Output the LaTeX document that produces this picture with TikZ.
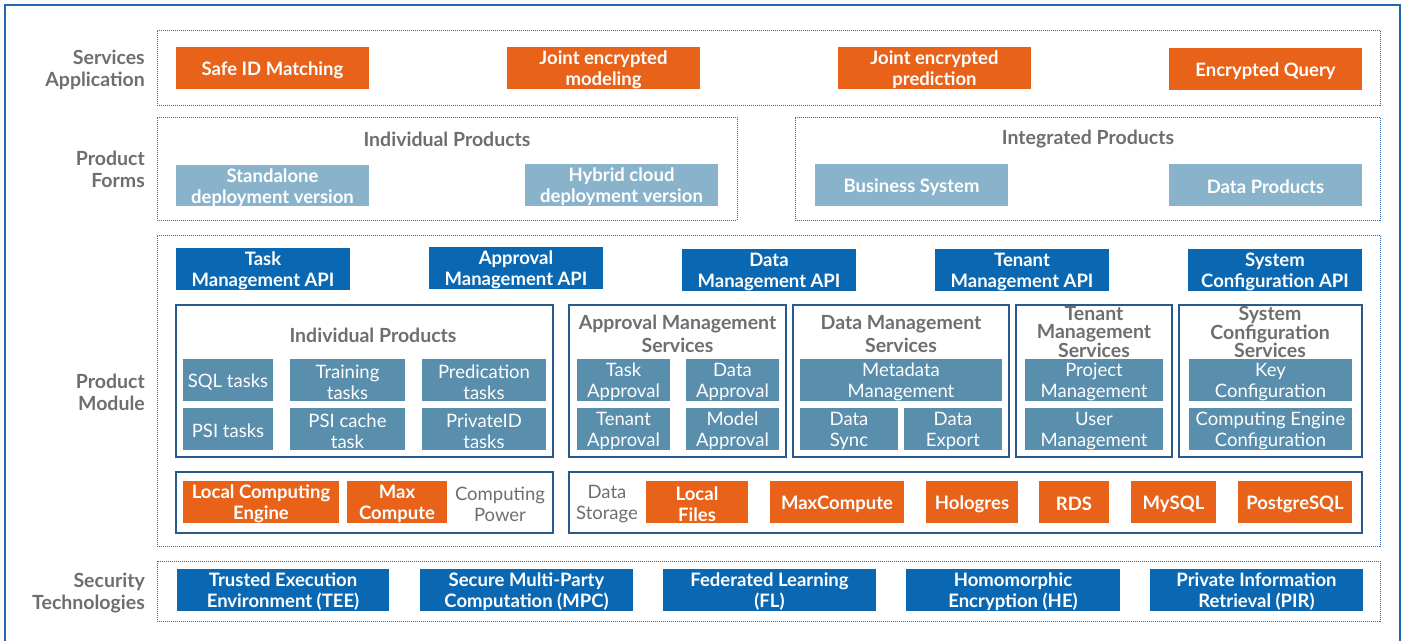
\documentclass[tikz,border=0pt]{standalone}
\usepackage{fontspec}
\setmainfont{Lato}
\usetikzlibrary{positioning}
\definecolor{cOrange}{HTML}{E8621A}
\definecolor{cLight}{HTML}{89B3CB}
\definecolor{cTeal}{HTML}{5A8EAD}
\definecolor{cBlue}{HTML}{0A68B3}
\definecolor{cGray}{HTML}{6E6E70}
\definecolor{cDot}{HTML}{2E65A0}
\definecolor{cFrame}{HTML}{1F6AB3}
\definecolor{cNavy}{HTML}{2A5A8C}
\newcommand{\rbox}[7]{\node[#1, minimum width={#5-#3}, minimum height={#6-#4}] (#2) at ({(#3+#5)/2},{(#4+#6)/2}) {};
  \node[#1, fill=none, draw=none, minimum width=0pt, minimum height=0pt] (#2-t) at ([yshift=-2pt]#2.center) {#7};}
\tikzset{
  base/.style={rectangle, inner sep=0pt, outer sep=0pt, align=center, font=\fontsize{18.5}{21}\selectfont},
  obox/.style={base, fill=cOrange, text=white, font=\bfseries\fontsize{18.5}{21}\selectfont},
  lbox/.style={base, fill=cLight, text=white, font=\bfseries\fontsize{18.5}{21}\selectfont},
  apibox/.style={base, fill=cBlue, text=white, font=\bfseries\fontsize{18.5}{21}\selectfont},
  tbox/.style={base, fill=cTeal, text=white, font=\fontsize{18.5}{21}\selectfont},
  sbox/.style={base, fill=cBlue, text=white, font=\bfseries\fontsize{18.5}{21}\selectfont},
  dotframe/.style={base, draw=cDot, line width=1pt, densely dotted},
  solidframe/.style={base, draw=cNavy, line width=1.5pt},
  lay/.style={anchor=east, align=right, text=cGray, font=\bfseries\fontsize{19.5}{22}\selectfont, inner sep=0pt},
  ttl/.style={align=center, text=cGray, font=\bfseries\fontsize{19.5}{23}\selectfont, inner sep=0pt},
  ttl3/.style={align=center, text=cGray, font=\bfseries\fontsize{19.5}{18.5}\selectfont, inner sep=0pt},
  plain/.style={align=center, text=cGray, font=\fontsize{18.5}{21}\selectfont, inner sep=0pt},
}
\begin{document}
\begin{tikzpicture}[x=1pt,y=-1pt]
\useasboundingbox (0,0) rectangle (1405,640);
\draw[cFrame, line width=1.8pt] (5,660) -- (5,5) -- (1400,5) -- (1400,660);

% layer labels
\node[lay] (lSA) at (145,70) {Services\\Application};
\node[lay] (lPF) at (145,169) {Product\\Forms};
\node[lay] (lPM) at (145,392) {Product\\Module};
\node[lay] (lST) at (145,593) {Security\\Technologies};

% Services Application
\rbox{dotframe}{fSA}{157}{30}{1380}{105}{}
\rbox{obox}{sid}{176}{47}{369}{89}{Safe ID Matching}
\rbox{obox}{jem}{507}{47}{700}{89}{Joint encrypted\\modeling}
\rbox{obox}{jep}{838}{47}{1031}{89}{Joint encrypted\\prediction}
\rbox{obox}{eq}{1169}{48}{1362}{90}{Encrypted Query}

% Product Forms
\rbox{dotframe}{fIP}{157}{117}{737}{220}{}
\rbox{dotframe}{fGP}{795}{117}{1380}{220}{}
\node[ttl] (tIP) at (447,139) {Individual Products};
\node[ttl] (tGP) at (1088,139) {Integrated Products};
\rbox{lbox}{sdv}{176}{165}{369}{206}{Standalone\\deployment version}
\rbox{lbox}{hcv}{525}{164}{718}{206}{Hybrid cloud\\deployment version}
\rbox{lbox}{bs}{815}{164}{1008}{206}{Business System}
\rbox{lbox}{dp}{1169}{164}{1362}{206}{Data Products}

% Product Module
\rbox{dotframe}{fPM}{157}{235}{1380}{546}{}
\rbox{apibox}{a1}{176}{248}{350}{290}{Task\\Management API}
\rbox{apibox}{a2}{429}{247}{603}{289}{Approval\\Management API}
\rbox{apibox}{a3}{682}{249}{856}{291}{Data\\Management API}
\rbox{apibox}{a4}{935}{249}{1109}{291}{Tenant\\Management API}
\rbox{apibox}{a5}{1188}{249}{1362}{291}{System\\Configuration API}

\rbox{solidframe}{m1}{176}{305}{553}{457}{}
\rbox{solidframe}{m2}{569}{305}{786}{457}{}
\rbox{solidframe}{m3}{793}{305}{1009}{457}{}
\rbox{solidframe}{m4}{1016}{305}{1172}{457}{}
\rbox{solidframe}{m5}{1179}{305}{1362}{457}{}

\node[ttl] (t1) at (373,335) {Individual Products};
\rbox{tbox}{sql}{183}{359}{273}{401}{SQL tasks}
\rbox{tbox}{trn}{290}{359}{405}{401}{Training\\tasks}
\rbox{tbox}{prd}{422}{359}{546}{401}{Predication\\tasks}
\rbox{tbox}{psi}{183}{408}{273}{450}{PSI tasks}
\rbox{tbox}{psc}{290}{408}{405}{450}{PSI cache\\task}
\rbox{tbox}{pid}{422}{408}{546}{450}{PrivateID\\tasks}

\node[ttl] (t2) at (677.5,334) {Approval Management\\Services};
\rbox{tbox}{tap}{577}{359}{670}{401}{Task\\Approval}
\rbox{tbox}{dap}{686}{359}{779}{401}{Data\\Approval}
\rbox{tbox}{nap}{577}{408}{670}{450}{Tenant\\Approval}
\rbox{tbox}{map}{686}{408}{779}{450}{Model\\Approval}

\node[ttl] (t3) at (901,334) {Data Management\\Services};
\rbox{tbox}{mdm}{800}{359}{1002}{401}{Metadata\\Management}
\rbox{tbox}{dsy}{800}{408}{898}{450}{Data\\Sync}
\rbox{tbox}{dex}{904}{408}{1002}{450}{Data\\Export}

\node[ttl3] (t4) at (1094,332) {Tenant\\Management\\Services};
\rbox{tbox}{prm}{1025}{359}{1163}{401}{Project\\Management}
\rbox{tbox}{usm}{1025}{408}{1163}{450}{User\\Management}

\node[ttl3] (t5) at (1270,332) {System\\Configuration\\Services};
\rbox{tbox}{kcf}{1189}{359}{1352}{401}{Key\\Configuration}
\rbox{tbox}{cec}{1189}{408}{1352}{450}{Computing Engine\\Configuration}

\rbox{solidframe}{cp}{176}{472}{553}{533}{}
\rbox{solidframe}{ds}{569}{472}{1362}{533}{}
\rbox{obox}{lce}{183}{481}{339}{523}{Local Computing\\Engine}
\rbox{obox}{mxc}{347}{481}{447}{523}{Max\\Compute}
\node[plain] (cpw) at (500,504) {Computing\\Power};
\node[plain] (dst) at (607,504) {Data\\Storage};
\rbox{obox}{lf}{646}{481}{748}{523}{Local\\Files}
\rbox{obox}{mc}{770}{481}{904}{523}{MaxCompute}
\rbox{obox}{hg}{926}{481}{1018}{523}{Hologres}
\rbox{obox}{rds}{1039}{481}{1109}{523}{RDS}
\rbox{obox}{my}{1131}{481}{1216}{523}{MySQL}
\rbox{obox}{pg}{1238}{481}{1352}{523}{PostgreSQL}

% Security Technologies
\rbox{dotframe}{fST}{157}{561}{1380}{621}{}
\rbox{sbox}{tee}{177}{569}{389}{611}{Trusted Execution\\Environment (TEE)}
\rbox{sbox}{mpc}{420}{569}{633}{611}{Secure Multi-Party\\Computation (MPC)}
\rbox{sbox}{fl}{663}{569}{876}{611}{Federated Learning\\(FL)}
\rbox{sbox}{he}{906}{569}{1120}{611}{Homomorphic\\Encryption (HE)}
\rbox{sbox}{pir}{1150}{569}{1363}{611}{Private Information\\Retrieval (PIR)}
\end{tikzpicture}
\end{document}
